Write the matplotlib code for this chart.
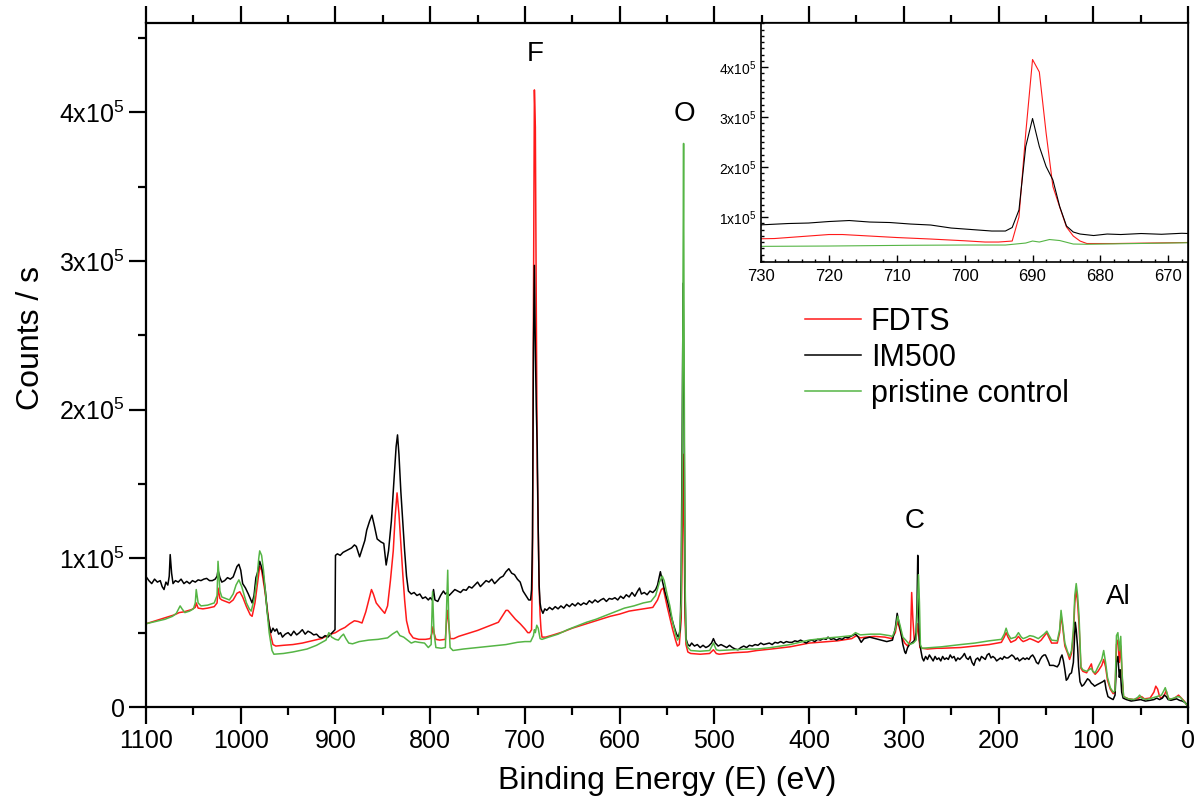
import numpy as np
import matplotlib
matplotlib.use("Agg")
import matplotlib.pyplot as plt
from matplotlib.ticker import MultipleLocator, FuncFormatter, AutoMinorLocator

plt.rcParams['font.family'] = ['Liberation Sans', 'DejaVu Sans']
plt.rcParams['mathtext.default'] = 'regular'

# XPS survey spectra, binding energy (eV) vs counts/s (in units of 1e5)
fdts_ev = [1100, 1090, 1080, 1070, 1065, 1060, 1052, 1048, 1047, 1045, 1040, 1035, 1028, 1025, 1024, 1022,
           1020, 1016, 1012, 1008, 1004, 1001, 998, 994, 990, 988, 985, 982, 980, 978, 975, 972, 969, 966,
           963, 955, 945, 935, 925, 915, 905, 900, 895, 890, 885, 880, 876, 872, 868, 864, 862, 860, 857,
           852, 848, 845, 842, 839, 837, 835, 833, 831, 829, 827, 825, 822, 818, 812, 805, 800, 798, 797,
           796, 794, 790, 784, 782, 781, 779, 775, 770, 760, 750, 740, 732, 728, 724, 720, 718, 714, 710,
           705, 700, 697, 695, 693, 692, 691, 690, 689, 688, 687, 686, 685, 684, 683, 682, 678, 670, 660,
           650, 640, 630, 620, 610, 600, 590, 580, 570, 565, 560, 556, 554, 552, 550, 547, 544, 541, 539,
           537, 535, 534, 533, 532, 531, 530, 528, 525, 515, 505, 501, 498, 495, 480, 465, 455, 440, 420,
           400, 380, 370, 355, 350, 346, 340, 331, 320, 313, 309, 307, 305, 302, 299, 296, 293, 291.7,
           290.5, 289, 287, 285.5, 284.5, 283, 281, 275, 265, 260, 240, 225, 210, 197, 194, 192, 190, 187,
           182, 179, 176, 174, 170, 167, 163, 158, 155, 152, 149, 147, 144, 138, 135.5, 134, 132.5, 130,
           127, 125, 123, 121, 119.5, 118, 116.5, 115, 113, 111, 107, 104.5, 102, 100.5, 98, 95, 91, 89,
           87, 85, 82, 79, 77, 75.5, 74, 72.5, 71, 69.5, 68, 63, 57, 52, 49, 46, 40, 36, 34, 32, 30, 28,
           25, 23, 21, 17, 13, 10, 7, 4, 2, 0]
fdts_cps = [0.56, 0.58, 0.60, 0.62, 0.635, 0.64, 0.655, 0.67, 0.70, 0.665, 0.66, 0.665, 0.675, 0.70, 0.80,
            0.73, 0.72, 0.71, 0.70, 0.72, 0.765, 0.775, 0.74, 0.675, 0.62, 0.61, 0.70, 0.85, 0.945, 0.92,
            0.80, 0.66, 0.50, 0.42, 0.41, 0.415, 0.42, 0.43, 0.445, 0.46, 0.49, 0.50, 0.52, 0.535, 0.56,
            0.58, 0.575, 0.565, 0.64, 0.74, 0.79, 0.76, 0.70, 0.66, 0.63, 0.68, 0.85, 1.05, 1.28, 1.44,
            1.30, 1.10, 0.90, 0.72, 0.58, 0.50, 0.465, 0.455, 0.455, 0.46, 0.50, 0.54, 0.50, 0.455, 0.45,
            0.455, 0.65, 0.60, 0.46, 0.46, 0.475, 0.495, 0.515, 0.54, 0.56, 0.57, 0.61, 0.65, 0.65, 0.62,
            0.59, 0.56, 0.525, 0.50, 0.50, 0.52, 1.00, 2.68, 4.15, 3.90, 2.68, 1.61, 1.20, 0.80, 0.62,
            0.52, 0.47, 0.47, 0.485, 0.505, 0.53, 0.55, 0.57, 0.59, 0.61, 0.625, 0.645, 0.655, 0.665,
            0.67, 0.72, 0.79, 0.80, 0.74, 0.68, 0.60, 0.52, 0.45, 0.41, 0.42, 0.60, 1.0, 1.7, 1.2, 0.60,
            0.42, 0.37, 0.36, 0.355, 0.36, 0.385, 0.36, 0.355, 0.365, 0.37, 0.38, 0.39, 0.405, 0.43, 0.44,
            0.445, 0.46, 0.48, 0.465, 0.47, 0.475, 0.47, 0.46, 0.50, 0.575, 0.54, 0.47, 0.43, 0.41, 0.45,
            0.77, 0.60, 0.45, 0.46, 0.56, 0.50, 0.40, 0.395, 0.39, 0.395, 0.395, 0.40, 0.41, 0.42, 0.435,
            0.47, 0.50, 0.47, 0.435, 0.45, 0.475, 0.45, 0.44, 0.45, 0.46, 0.45, 0.435, 0.45, 0.475, 0.50,
            0.47, 0.43, 0.43, 0.50, 0.62, 0.55, 0.41, 0.36, 0.32, 0.36, 0.48, 0.70, 0.79, 0.70, 0.55, 0.26,
            0.24, 0.23, 0.26, 0.29, 0.24, 0.22, 0.24, 0.28, 0.32, 0.27, 0.18, 0.12, 0.09, 0.10, 0.42, 0.45,
            0.30, 0.41, 0.20, 0.07, 0.055, 0.05, 0.06, 0.07, 0.055, 0.06, 0.10, 0.14, 0.12, 0.07, 0.06,
            0.08, 0.11, 0.06, 0.05, 0.065, 0.08, 0.06, 0.04, 0.02, 0.005]

im500_ev = [1100, 1097, 1094, 1091, 1088, 1085, 1083, 1081, 1079, 1077, 1075.5, 1074.5, 1073, 1071.5, 1069,
            1066, 1063, 1060, 1057, 1054, 1051, 1048, 1045, 1042, 1039, 1036, 1033, 1030, 1027, 1025,
            1024, 1022, 1020, 1017, 1014, 1011, 1008, 1006, 1004, 1002, 1000, 998, 995, 992, 990, 988,
            986, 984, 982, 980, 978, 976, 974, 972, 970, 968, 966, 964, 962, 960, 958, 956, 953, 950, 947,
            944, 941, 938, 935, 932, 929, 926, 923, 920, 917, 914, 911, 908, 905, 902, 900.5, 900, 898,
            895, 892, 889, 886, 883, 880, 878, 876, 874.5, 872, 869, 867, 864, 861.5, 859, 856, 852, 849,
            846.5, 844, 841, 838, 836, 834.5, 833, 831, 829, 827, 825, 823, 820, 817, 814, 811, 808, 805,
            802, 800, 798, 796.5, 795, 792, 789, 786, 784, 782, 780, 777, 774, 771, 768, 765, 762, 759,
            756, 753, 750, 747, 744, 741, 738, 735, 732, 729, 726, 723, 720, 717, 714, 711, 708, 705, 702,
            699, 696, 694, 693, 692, 691, 690, 689, 688, 687, 686, 685, 684, 683, 681, 679, 677, 674, 671,
            668, 665, 662, 659, 656, 653, 650, 647, 644, 641, 638, 635, 632, 629, 626, 623, 620, 617, 614,
            611, 608, 605, 602, 599, 596, 593, 590, 587, 584, 581, 579, 577, 574, 571, 568, 565, 562, 560,
            558, 557, 555, 552, 549, 546, 543, 540, 538, 536, 535, 534, 533, 532, 531, 530, 528, 526, 524,
            521, 518, 515, 512, 509, 506, 503, 501, 499, 496, 493, 490, 487, 484, 481, 478, 475, 472, 469,
            466, 463, 460, 457, 454, 451, 448, 445, 442, 439, 436, 433, 430, 427, 424, 421, 418, 415, 412,
            409, 406, 403, 400, 397, 394, 391, 388, 385, 382, 380, 377, 374, 371, 368, 365, 362, 359, 356,
            353, 351, 348, 345, 342, 339, 336, 333, 330, 327, 324, 321, 318, 315, 312, 309, 307, 305, 303,
            301, 299, 298, 296, 294, 292, 290, 288.5, 287, 286, 285.3, 284.5, 283.5, 282, 280.5, 279, 277,
            275, 273, 271, 269, 267, 265, 263, 261, 259, 257, 255, 253, 251, 249, 247, 245, 243, 241, 238,
            236, 234, 232, 230, 228, 226, 224, 222, 220, 218, 216, 214, 212, 210, 208, 206, 204, 202, 200,
            198, 196, 194, 192, 190, 188, 186, 184, 182, 180, 178, 176, 174, 172, 170, 168, 166, 164, 162,
            160, 158, 156, 154, 152, 150.5, 149, 147, 146, 144, 142, 140, 138, 136, 134.5, 133, 131.5,
            130, 128.5, 127, 125, 123, 121, 119.5, 119, 118, 116.5, 115.5, 114, 112, 110, 108, 106, 104,
            102, 100, 98.6, 96, 93, 90, 88, 86.5, 84.5, 82, 79, 77, 75.5, 74, 72.5, 71.5, 70, 68.5, 65,
            60, 55, 50, 45, 40, 36, 33, 30, 27, 25, 23, 21, 18, 15, 12, 9, 6, 3, 1, 0]
im500_cps = [0.877, 0.85, 0.83, 0.86, 0.84, 0.85, 0.81, 0.79, 0.84, 0.82, 0.88, 1.025, 0.90, 0.83, 0.85,
             0.84, 0.86, 0.83, 0.845, 0.83, 0.85, 0.84, 0.855, 0.85, 0.86, 0.865, 0.85, 0.85, 0.86, 0.88,
             0.92, 0.87, 0.84, 0.85, 0.87, 0.86, 0.875, 0.91, 0.945, 0.96, 0.92, 0.83, 0.80, 0.76, 0.73,
             0.70, 0.75, 0.87, 0.91, 0.98, 0.94, 0.88, 0.78, 0.64, 0.55, 0.50, 0.53, 0.51, 0.525, 0.49,
             0.50, 0.47, 0.49, 0.50, 0.48, 0.51, 0.485, 0.50, 0.52, 0.49, 0.51, 0.50, 0.485, 0.49, 0.47,
             0.465, 0.48, 0.47, 0.49, 0.51, 0.52, 1.02, 1.03, 1.02, 1.04, 1.05, 1.06, 1.07, 1.09, 1.08,
             1.04, 1.01, 1.06, 1.12, 1.19, 1.25, 1.29, 1.22, 1.13, 1.11, 1.10, 0.955, 1.05, 1.25, 1.55,
             1.75, 1.83, 1.70, 1.45, 1.25, 1.05, 0.88, 0.78, 0.76, 0.77, 0.75, 0.76, 0.73, 0.74, 0.72,
             0.735, 0.72, 0.79, 0.72, 0.71, 0.75, 0.78, 0.76, 0.77, 0.75, 0.77, 0.79, 0.78, 0.77, 0.79,
             0.785, 0.81, 0.80, 0.82, 0.84, 0.81, 0.83, 0.85, 0.84, 0.86, 0.83, 0.85, 0.87, 0.88, 0.91,
             0.93, 0.90, 0.89, 0.86, 0.84, 0.78, 0.75, 0.72, 0.72, 0.79, 1.14, 2.41, 2.97, 2.41, 2.01,
             1.74, 1.21, 0.82, 0.70, 0.66, 0.63, 0.66, 0.65, 0.67, 0.655, 0.675, 0.66, 0.68, 0.665, 0.69,
             0.675, 0.695, 0.68, 0.70, 0.685, 0.70, 0.69, 0.715, 0.70, 0.72, 0.705, 0.72, 0.73, 0.71, 0.73,
             0.725, 0.735, 0.72, 0.745, 0.73, 0.755, 0.74, 0.77, 0.745, 0.78, 0.80, 0.76, 0.77, 0.755,
             0.78, 0.77, 0.79, 0.82, 0.88, 0.91, 0.85, 0.77, 0.70, 0.62, 0.55, 0.49, 0.47, 0.52, 0.90,
             1.8, 2.85, 2.0, 0.8, 0.46, 0.42, 0.41, 0.43, 0.41, 0.42, 0.40, 0.415, 0.40, 0.41, 0.43, 0.46,
             0.43, 0.41, 0.42, 0.41, 0.40, 0.415, 0.40, 0.39, 0.385, 0.40, 0.41, 0.40, 0.415, 0.41, 0.42,
             0.415, 0.43, 0.42, 0.425, 0.43, 0.42, 0.435, 0.43, 0.44, 0.43, 0.44, 0.435, 0.435, 0.445,
             0.44, 0.45, 0.44, 0.43, 0.445, 0.45, 0.44, 0.455, 0.45, 0.46, 0.455, 0.47, 0.455, 0.46, 0.45,
             0.46, 0.455, 0.47, 0.465, 0.475, 0.485, 0.49, 0.47, 0.435, 0.46, 0.465, 0.47, 0.465, 0.46,
             0.455, 0.45, 0.445, 0.44, 0.445, 0.45, 0.53, 0.63, 0.56, 0.50, 0.42, 0.37, 0.36, 0.40, 0.42,
             0.43, 0.44, 0.45, 0.50, 0.70, 1.02, 0.70, 0.45, 0.38, 0.33, 0.31, 0.34, 0.32, 0.35, 0.33,
             0.31, 0.34, 0.32, 0.33, 0.31, 0.34, 0.32, 0.33, 0.32, 0.35, 0.33, 0.34, 0.31, 0.33, 0.32,
             0.34, 0.36, 0.33, 0.32, 0.34, 0.30, 0.28, 0.32, 0.33, 0.31, 0.34, 0.33, 0.32, 0.35, 0.36,
             0.33, 0.34, 0.33, 0.31, 0.32, 0.33, 0.32, 0.34, 0.33, 0.33, 0.34, 0.35, 0.34, 0.32, 0.33,
             0.31, 0.32, 0.33, 0.32, 0.33, 0.32, 0.34, 0.35, 0.33, 0.30, 0.29, 0.32, 0.34, 0.35, 0.35,
             0.33, 0.30, 0.28, 0.28, 0.28, 0.275, 0.27, 0.29, 0.33, 0.35, 0.31, 0.25, 0.18, 0.19, 0.22,
             0.23, 0.30, 0.50, 0.57, 0.52, 0.40, 0.27, 0.17, 0.14, 0.15, 0.17, 0.19, 0.18, 0.16, 0.15,
             0.14, 0.15, 0.16, 0.17, 0.18, 0.12, 0.07, 0.06, 0.05, 0.08, 0.30, 0.34, 0.20, 0.25, 0.10,
             0.06, 0.05, 0.04, 0.045, 0.05, 0.04, 0.045, 0.05, 0.06, 0.05, 0.06, 0.08, 0.07, 0.05, 0.045,
             0.05, 0.055, 0.045, 0.04, 0.03, 0.015, 0.005]

pristine_ev = [1100, 1090, 1080, 1072, 1068, 1064, 1062, 1059, 1054, 1050, 1048, 1047, 1045, 1042, 1035,
               1028, 1025, 1024, 1022, 1020, 1016, 1012, 1008, 1005, 1002, 999, 994, 991, 989, 986, 983,
               981, 980, 978, 976, 973, 970, 967, 965, 955, 945, 930, 920, 910, 907, 904, 900, 897, 894,
               891.5, 889, 886, 882, 875, 865, 855, 845, 840, 835, 832, 828, 823, 820, 816, 812, 806, 802,
               799, 797.5, 796, 794, 788, 784, 782.5, 781.5, 780.5, 779, 776, 765, 750, 735, 720, 708, 700,
               694, 691, 690, 689, 687.5, 686, 684, 682, 675, 665, 655, 645, 635, 625, 615, 605, 595, 585,
               575, 567, 562, 558, 555, 553, 550, 547, 544, 541, 539, 537, 535, 534, 533, 532.5, 532, 531,
               530, 528, 525, 515, 505, 501, 498, 495, 480, 465, 455, 440, 420, 400, 380, 370, 355, 351,
               346, 335, 325, 315, 312, 309, 306.5, 304, 301, 298, 294, 290, 287, 285.5, 284.5, 283.5,
               282.5, 281, 270, 260, 240, 225, 210, 197, 194, 192, 190, 187, 182, 179, 176, 174, 170, 167,
               163, 158, 155, 152, 149, 147, 144, 138, 135.5, 134, 132.5, 130, 127, 125, 123, 121, 119.5,
               118, 116.5, 115, 113, 111, 107, 104.5, 102, 100.5, 98, 95, 91, 89, 87, 85, 82, 79, 77, 75.5,
               74, 72.5, 71, 69.5, 68, 63, 57, 53, 51, 49, 44, 38, 33, 28, 25.5, 24, 22, 20, 15, 11, 8, 4,
               2, 0]
pristine_cps = [0.56, 0.575, 0.59, 0.61, 0.63, 0.68, 0.66, 0.635, 0.645, 0.66, 0.70, 0.79, 0.70, 0.68,
                0.685, 0.70, 0.75, 0.98, 0.78, 0.74, 0.73, 0.72, 0.76, 0.82, 0.855, 0.81, 0.70, 0.66,
                0.645, 0.72, 0.855, 1.00, 1.05, 1.02, 0.92, 0.70, 0.50, 0.38, 0.355, 0.36, 0.37, 0.39,
                0.415, 0.45, 0.50, 0.47, 0.455, 0.45, 0.475, 0.49, 0.46, 0.43, 0.425, 0.44, 0.45, 0.455,
                0.465, 0.49, 0.51, 0.48, 0.47, 0.445, 0.43, 0.44, 0.435, 0.43, 0.40, 0.42, 0.775, 0.50,
                0.40, 0.395, 0.40, 0.70, 0.92, 0.60, 0.40, 0.38, 0.39, 0.40, 0.41, 0.42, 0.435, 0.44,
                0.44, 0.48, 0.52, 0.50, 0.55, 0.53, 0.46, 0.455, 0.47, 0.49, 0.52, 0.545, 0.57, 0.59,
                0.615, 0.64, 0.665, 0.68, 0.70, 0.71, 0.75, 0.84, 0.88, 0.85, 0.76, 0.68, 0.57, 0.49,
                0.45, 0.47, 0.70, 1.5, 3.0, 3.79, 2.5, 0.9, 0.45, 0.40, 0.38, 0.375, 0.38, 0.43, 0.385,
                0.38, 0.385, 0.39, 0.39, 0.40, 0.42, 0.45, 0.465, 0.47, 0.48, 0.50, 0.485, 0.49, 0.49,
                0.48, 0.475, 0.52, 0.61, 0.55, 0.47, 0.45, 0.42, 0.43, 0.45, 0.70, 0.89, 0.70, 0.42,
                0.395, 0.40, 0.405, 0.42, 0.43, 0.445, 0.455, 0.49, 0.53, 0.49, 0.46, 0.47, 0.50, 0.47,
                0.46, 0.47, 0.48, 0.475, 0.46, 0.475, 0.49, 0.51, 0.485, 0.45, 0.445, 0.52, 0.65, 0.57,
                0.43, 0.37, 0.34, 0.38, 0.52, 0.75, 0.83, 0.75, 0.61, 0.27, 0.25, 0.24, 0.25, 0.26, 0.24,
                0.23, 0.27, 0.32, 0.38, 0.30, 0.20, 0.13, 0.10, 0.11, 0.48, 0.50, 0.38, 0.475, 0.22, 0.07,
                0.055, 0.05, 0.065, 0.08, 0.06, 0.05, 0.06, 0.07, 0.08, 0.11, 0.13, 0.09, 0.05, 0.06,
                0.07, 0.065, 0.035, 0.02, 0.005]

series_labels = ["FDTS", "IM500", "pristine control"]
series_colors = ["#ff1a1a", "#000000", "#55b545"]

peak_names = ["F", "O", "C", "Al"]
peak_ev = [689, 532, 289, 74]
peak_cps = [4.39, 3.99, 1.25, 0.74]

SCALE = 1e5


def sci_fmt(v, pos):
    n = int(round(v / SCALE))
    if n == 0:
        return "0"
    return "%dx10$^{5}$" % n


fig = plt.figure(figsize=(11.96, 8.07), dpi=100)
ax = fig.add_axes([0.1221, 0.1239, 0.8712, 0.8476])

data = [(fdts_ev, fdts_cps), (im500_ev, im500_cps), (pristine_ev, pristine_cps)]
for (ev, cps), lab, col in zip(data, series_labels, series_colors):
    ax.plot(ev, np.array(cps) * SCALE, color=col, lw=1.1, label=lab)

ax.set_xlim(1100, 0)
ax.set_ylim(0, 4.6 * SCALE)
ax.xaxis.set_major_locator(MultipleLocator(100))
ax.xaxis.set_minor_locator(MultipleLocator(50))
ax.yaxis.set_major_locator(MultipleLocator(SCALE))
ax.yaxis.set_minor_locator(MultipleLocator(0.5 * SCALE))
ax.yaxis.set_major_formatter(FuncFormatter(sci_fmt))
ax.tick_params(which='both', direction='out', width=1.6, labelsize=18, top=True, right=False)
ax.tick_params(which='major', length=12)
ax.tick_params(which='minor', length=6)
for sp in ax.spines.values():
    sp.set_linewidth(1.6)
ax.set_xlabel("Binding Energy (E) (eV)", fontsize=23, labelpad=10)
ax.set_ylabel("Counts / s", fontsize=23)
ax.yaxis.set_label_coords(-0.096, 0.54)

for name, xv, yv in zip(peak_names, peak_ev, peak_cps):
    ax.text(xv, yv * SCALE, name, fontsize=20, ha='center', va='center')

ax.legend(loc='upper left', bbox_to_anchor=(0.6324, 0.585), frameon=False, fontsize=22,
          handlelength=1.85, handletextpad=0.3, labelspacing=0.2, borderaxespad=0, borderpad=0)

# inset around the F 1s peak
axin = fig.add_axes([0.6363, 0.6753, 0.3570, 0.2962])
for (ev, cps), col in zip(data, series_colors):
    axin.plot(ev, np.array(cps) * SCALE, color=col, lw=0.8)
axin.set_xlim(730, 667.1)
axin.set_ylim(0.1 * SCALE, 4.88 * SCALE)
axin.xaxis.set_major_locator(MultipleLocator(10))
axin.xaxis.set_minor_locator(MultipleLocator(2))
axin.yaxis.set_major_locator(MultipleLocator(SCALE))
axin.yaxis.set_minor_locator(AutoMinorLocator(8))
axin.yaxis.set_major_formatter(FuncFormatter(sci_fmt))
axin.tick_params(which='both', direction='in', width=1.0)
axin.tick_params(which='major', length=5)
axin.tick_params(which='minor', length=2.5)
axin.tick_params(axis='x', labelsize=12, pad=5)
axin.tick_params(axis='y', labelsize=10)
for sp in axin.spines.values():
    sp.set_linewidth(1.2)

fig.savefig("out.png", dpi=100)
